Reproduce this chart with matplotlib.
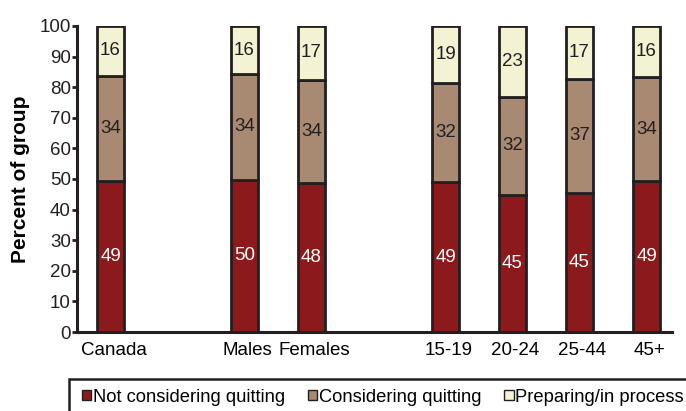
import numpy as np
import matplotlib
matplotlib.use('Agg')
import matplotlib.pyplot as plt
import matplotlib.transforms as mtransforms
from matplotlib.patches import Rectangle

plt.rcParams['font.family'] = ['Liberation Sans', 'DejaVu Sans']

# groups and their slot on the x axis (gaps between Canada / sex / age)
groups = ['Canada', 'Males', 'Females', '15-19', '20-24', '25-44', '45+']
slots = [0, 2, 3, 5, 6, 7, 8]

# bar heights (percent)
not_considering = [49.2, 49.8, 48.6, 49.0, 44.8, 45.4, 49.2]
considering = [34.5, 34.4, 33.8, 32.4, 32.0, 37.3, 34.2]
preparing = [16.3, 15.8, 17.6, 18.6, 23.2, 17.3, 16.6]

# printed labels on the bars
lbl_not = [49, 50, 48, 49, 45, 45, 49]
lbl_cons = [34, 34, 34, 32, 32, 37, 34]
lbl_prep = [16, 16, 17, 19, 23, 17, 16]

c_red = '#8c1a1d'
c_brown = '#a88a72'
c_cream = '#f3f3d3'
edge = '#231f20'

fig = plt.figure(figsize=(6.86, 4.11), dpi=100)
ax = fig.add_axes([77 / 686, 0.192, 595 / 686, 0.745])

x = np.array(slots)
w = 0.40
b1 = ax.bar(x, not_considering, w, color=c_red, edgecolor=edge, linewidth=2,
            label='Not considering quitting')
b2 = ax.bar(x, considering, w, bottom=not_considering, color=c_brown,
            edgecolor=edge, linewidth=2, label='Considering quitting')
bottom3 = np.array(not_considering) + np.array(considering)
b3 = ax.bar(x, preparing, w, bottom=bottom3, color=c_cream,
            edgecolor=edge, linewidth=2, label='Preparing/in process')

fs = 13.5
ax.bar_label(b1, labels=[str(v) for v in lbl_not], label_type='center',
             color='white', fontsize=fs)
ax.bar_label(b2, labels=[str(v) for v in lbl_cons], label_type='center',
             color=edge, fontsize=fs)
ax.bar_label(b3, labels=[str(v) for v in lbl_prep], label_type='center',
             color=edge, fontsize=fs)

ax.set_xlim(-0.5, 8.38)
ax.set_ylim(0, 100)
ax.set_yticks(np.arange(0, 101, 10))
ax.set_xticks(x)
ax.set_xticklabels(groups, fontsize=fs)
ax.tick_params(axis='x', length=0, pad=7)
ax.tick_params(axis='y', labelsize=fs, length=3.5, width=2, color=edge,
               labelcolor=edge, pad=1)
# category labels sit a little right of the bar centres
shift = mtransforms.ScaledTranslation(3 / 100, 0, fig.dpi_scale_trans)
for t in ax.get_xticklabels():
    t.set_transform(t.get_transform() + shift)

for s in ['top', 'right']:
    ax.spines[s].set_visible(False)
for s in ['left', 'bottom']:
    ax.spines[s].set_linewidth(2.2)
    ax.spines[s].set_color(edge)

ax.set_ylabel('Percent of group', fontsize=15, fontweight='bold')
ax.yaxis.set_label_coords(-0.079, 0.5)

# legend box runs off the right and bottom edges of the figure
fig.patches.append(Rectangle((69 / 686, -0.1), 1.0, 0.1 + 1 - 379 / 411,
                             transform=fig.transFigure, fill=False,
                             edgecolor=edge, linewidth=1.8))
leg = fig.legend(handles=[b1, b2, b3], loc='center left', ncol=3,
                 bbox_to_anchor=(82 / 686, 1 - 397 / 411),
                 fontsize=13.2, frameon=False,
                 handlelength=0.5, handleheight=0.5, handletextpad=0.1,
                 columnspacing=1.25, borderpad=0, borderaxespad=0)
for h in leg.legend_handles:
    h.set_linewidth(1)

fig.savefig('out.png', dpi=100)
